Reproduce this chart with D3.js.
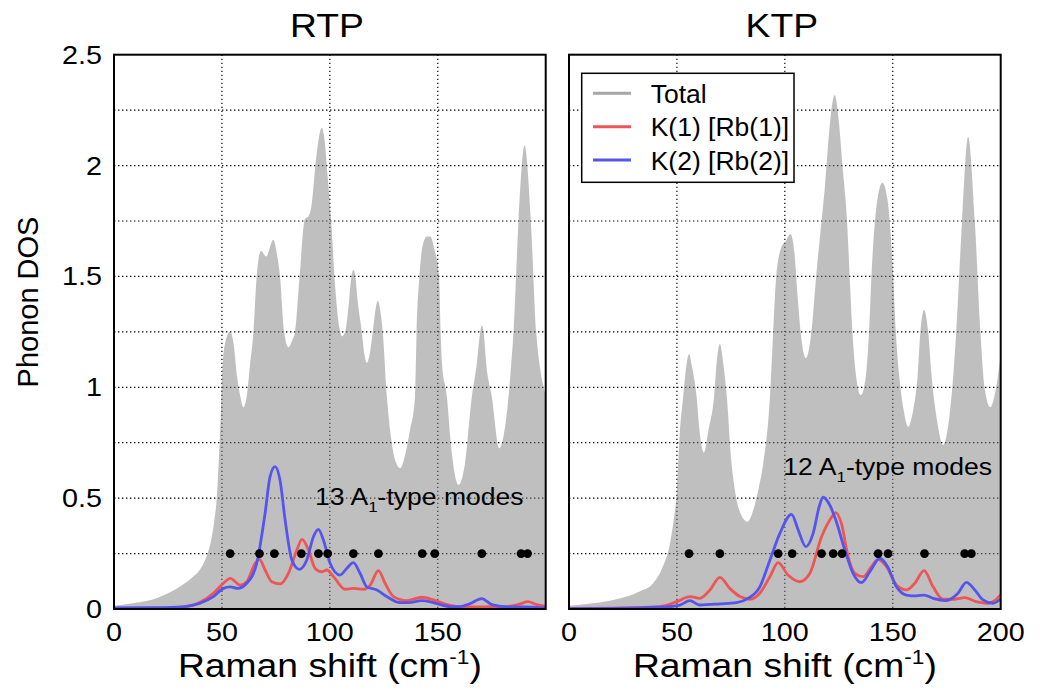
<!DOCTYPE html>
<html><head><meta charset="utf-8">
<script src="https://cdn.jsdelivr.net/npm/d3@7"></script>
<style>
body{margin:0;background:#fff;}
text{font-family:"Liberation Sans",Arial,Helvetica,sans-serif;fill:#000;}
</style></head>
<body><svg id="c" width="1043" height="693"></svg>
<script>
// ---------- data ----------
const panelTitles = ["RTP", "KTP"];
const xTicksLeft = [0, 50, 100, 150];
const xTicksRight = [0, 50, 100, 150, 200];
const yTicks = [0, 0.5, 1, 1.5, 2, 2.5];
const gridX = [50, 100, 150];
const gridY = [0.25, 0.5, 0.75, 1, 1.25, 1.5, 1.75, 2, 2.25];
const legendLabels = ["Total", "K(1) [Rb(1)]", "K(2) [Rb(2)]"];
const modeCounts = ["13", "12"];

const rtpTotal = [[0,0.015],[10,0.028],[20,0.05],[26,0.075],[32,0.11],[36,0.14],[40,0.18],[43,0.24],[45,0.31],[46.5,0.4],[47.6,0.5],[48.5,0.66],[49.3,0.83],[50.2,1.08],[51.5,1.2],[53.8,1.25],[55.5,1.19],[57,1.05],[58.5,0.96],[59.9,0.91],[61.5,0.96],[63,1.1],[64.6,1.25],[66.1,1.5],[68.1,1.615],[70.5,1.59],[73.8,1.665],[75.5,1.6],[76.9,1.5],[78.8,1.25],[80.8,1.18],[82.5,1.21],[83.9,1.25],[86,1.5],[88.5,1.76],[90,1.77],[91.5,1.82],[93.5,2.02],[95,2.13],[96.3,2.17],[97.5,2.12],[99,1.95],[100.6,1.75],[102.5,1.45],[104.4,1.27],[105.7,1.23],[107.1,1.25],[108.5,1.35],[110,1.5],[110.9,1.53],[111.8,1.5],[113,1.38],[114.8,1.25],[116,1.15],[117.1,1.11],[118.5,1.15],[119.9,1.25],[121,1.34],[122.2,1.39],[123.3,1.35],[124.5,1.25],[126.4,0.96],[128,0.8],[130,0.68],[132.6,0.635],[135,0.7],[137,0.8],[139.5,0.96],[140.2,1.25],[141.5,1.5],[143,1.64],[145,1.68],[146.5,1.68],[148.5,1.62],[150.6,1.5],[151.3,1.25],[152,1.1],[154.2,0.96],[156,0.75],[159.6,0.56],[162.5,0.65],[165.8,0.96],[168,1.1],[169.7,1.25],[170.4,1.28],[171.2,1.25],[172.5,1.1],[175,0.96],[178.5,0.725],[182.8,0.96],[184,1.1],[185.1,1.25],[187.4,1.75],[190.2,2.09],[193.1,1.75],[195.6,1.25],[197.5,1.08],[200,0.965]];
const rtpK1 = [[0,0.003],[20,0.004],[32,0.01],[39.9,0.03],[46,0.071],[50.7,0.116],[53.9,0.138],[56,0.125],[58.4,0.108],[61.5,0.123],[65.4,0.206],[67.4,0.224],[70,0.176],[73.1,0.123],[76.9,0.113],[80.8,0.161],[84.7,0.266],[87.1,0.314],[90.1,0.266],[93.2,0.183],[96.3,0.168],[98.6,0.176],[101.7,0.146],[107.1,0.089],[110.9,0.093],[115.6,0.089],[118.7,0.108],[122.5,0.173],[125.6,0.116],[129.5,0.056],[135.7,0.038],[142.6,0.053],[148,0.041],[154.2,0.02],[160,0.01],[171,0.01],[182,0.011],[188.2,0.023],[191.7,0.033],[195.8,0.02],[200,0.012]];
const rtpK2 = [[0,0.005],[20,0.006],[32,0.01],[39.9,0.026],[46,0.056],[50.7,0.093],[53.9,0.1],[57.3,0.093],[61.5,0.116],[66.1,0.206],[70,0.432],[72.3,0.597],[74.6,0.642],[76.9,0.582],[79.3,0.4],[82.4,0.221],[85.9,0.179],[89.3,0.221],[92.4,0.326],[94.7,0.359],[97,0.311],[100.1,0.206],[104.7,0.153],[107.8,0.183],[110.9,0.209],[114,0.161],[117.1,0.1],[121.8,0.086],[126.4,0.056],[132.6,0.029],[136.6,0.029],[142.6,0.038],[148,0.029],[155.7,0.011],[160,0.011],[164.7,0.023],[170.4,0.047],[175,0.02],[182,0.01],[191,0.01],[200,0.005]];
const rtpModes = [53.8,67.4,74.3,86.8,94.7,99.0,110.9,122.5,142.8,148.6,170.4,188.6,191.6];

const ktpTotal = [[0,0.015],[10,0.025],[20,0.04],[26.7,0.056],[33,0.08],[39,0.116],[43,0.18],[46.8,0.296],[48.5,0.4],[49.8,0.507],[51.4,0.807],[52.9,0.958],[53.8,1.05],[54.7,1.12],[55.7,1.15],[56.8,1.1],[59.1,0.958],[60.5,0.8],[62.5,0.705],[64.5,0.8],[67.2,0.958],[68.5,1.12],[69.9,1.195],[71.3,1.12],[73.1,0.958],[75.3,0.657],[77.5,0.5],[80,0.42],[82.7,0.394],[85.5,0.45],[88,0.55],[90,0.657],[93.1,0.958],[94.6,1.25],[96,1.5],[98.5,1.634],[100.5,1.66],[102.6,1.691],[104.5,1.6],[106,1.4],[107.3,1.25],[109.7,1.131],[112.3,1.25],[114.5,1.5],[117,1.75],[118.5,1.9],[119.3,2.0],[121,2.2],[123.1,2.318],[125,2.2],[126.7,2.0],[128.8,1.75],[130.5,1.4],[131.3,1.25],[133,1.05],[135.2,0.965],[137.5,1.05],[139,1.25],[140.1,1.5],[142.5,1.82],[145.2,1.923],[147.5,1.85],[150.2,1.5],[151.4,1.25],[153,1.05],[155,0.9],[157.1,0.822],[159.5,0.9],[161.5,1.05],[162.8,1.25],[164.5,1.349],[166.4,1.25],[168,1.05],[170.5,0.85],[173.3,0.74],[176,0.85],[178,1.05],[179.4,1.25],[182.1,1.75],[184.9,2.13],[188,1.75],[190.6,1.25],[192.5,1.0],[195.2,0.91],[197.5,0.98],[199,1.07],[200,1.15]];
const ktpK1 = [[0,0.003],[20,0.004],[42.1,0.011],[49.9,0.033],[56,0.056],[60.6,0.048],[65.3,0.086],[69.9,0.143],[74.5,0.093],[79.2,0.056],[83.8,0.044],[88.4,0.071],[93.1,0.146],[96.9,0.209],[101.5,0.153],[106.9,0.123],[111.6,0.161],[117,0.326],[120.8,0.401],[123.6,0.435],[126.2,0.386],[129.3,0.236],[132.4,0.161],[136.3,0.146],[140.1,0.191],[143.2,0.224],[147.1,0.191],[151.7,0.108],[156.3,0.086],[160.2,0.116],[164.5,0.173],[168.7,0.1],[173.3,0.044],[178.7,0.044],[183.3,0.051],[188.7,0.033],[194.1,0.026],[197.2,0.038],[200,0.065]];
const ktpK2 = [[0,0.002],[20,0.003],[42,0.008],[51.4,0.018],[56,0.038],[60.6,0.018],[69.9,0.023],[77.6,0.029],[83,0.048],[88.4,0.1],[93.1,0.221],[97.7,0.341],[103.1,0.427],[106.2,0.356],[109.7,0.281],[113.1,0.341],[115.9,0.461],[117.7,0.504],[120.8,0.469],[123.6,0.401],[127.8,0.266],[131.6,0.161],[135.5,0.119],[139.4,0.168],[144,0.229],[147.6,0.191],[151.7,0.1],[156.3,0.063],[160.9,0.059],[164.5,0.063],[168.7,0.048],[174.8,0.038],[180.2,0.071],[184.1,0.12],[188,0.086],[191.8,0.041],[196.4,0.026],[200,0.045]];
const ktpModes = [55.6,69.9,96.9,103.4,117,122.4,126.5,143.2,147.8,164.7,183.3,186.4];
const modeLevel = 0.25;

// ---------- drawing ----------
const svg = d3.select("#c");
const colors = {total:"#808080", k1:"#ee5555", k2:"#5555ee"};
const yTop = 54.7, yBot = 609;
const SX = 1.13; // horizontal stretch of the reference's lettering
function stext(g, x, yy, anchor, size, sx){
  return g.append("text").attr("transform",`translate(${x},${yy}) scale(${sx},1)`)
    .attr("text-anchor",anchor).attr("font-size",size);
}
const panels = [
  {x0:114, x1:545.7, title:panelTitles[0], total:rtpTotal, k1:rtpK1, k2:rtpK2, modes:rtpModes, xt:xTicksLeft, yLabels:true, count:modeCounts[0], annX:315, annY:505},
  {x0:569, x1:1000.7, title:panelTitles[1], total:ktpTotal, k1:ktpK1, k2:ktpK2, modes:ktpModes, xt:xTicksRight, yLabels:false, count:modeCounts[1], annX:783.3, annY:475}
];
const y = d3.scaleLinear().domain([0,2.5]).range([yBot,yTop]);

panels.forEach((p,i)=>{
  const x = d3.scaleLinear().domain([0,200]).range([p.x0,p.x1]);
  const g = svg.append("g");
  const clipId = "clip"+i;
  svg.append("clipPath").attr("id",clipId).append("rect")
    .attr("x",p.x0).attr("y",yTop).attr("width",p.x1-p.x0).attr("height",yBot-yTop);
  // grid
  g.selectAll(".gx").data(gridX).join("line")
    .attr("x1",d=>x(d)).attr("x2",d=>x(d)).attr("y1",yTop).attr("y2",yBot)
    .attr("stroke","#000").attr("stroke-width",1.2).attr("stroke-dasharray","1.4,2.6");
  g.selectAll(".gy").data(gridY).join("line")
    .attr("x1",p.x0).attr("x2",p.x1).attr("y1",d=>y(d)).attr("y2",d=>y(d))
    .attr("stroke","#000").attr("stroke-width",1.2).attr("stroke-dasharray","1.4,2.6");
  const cg = g.append("g").attr("clip-path",`url(#${clipId})`);
  // total area
  const area = d3.area().x(d=>x(d[0])).y0(y(0)).y1(d=>y(d[1])).curve(d3.curveMonotoneX);
  cg.append("path").datum(p.total).attr("d",area).attr("fill",colors.total).attr("fill-opacity",0.5);
  const line = d3.line().x(d=>x(d[0])).y(d=>y(d[1])).curve(d3.curveMonotoneX);
  cg.append("path").datum(p.k1).attr("d",line).attr("fill","none").attr("stroke",colors.k1).attr("stroke-width",2.8);
  cg.append("path").datum(p.k2).attr("d",line).attr("fill","none").attr("stroke",colors.k2).attr("stroke-width",2.8);
  // modes
  g.selectAll(".m").data(p.modes).join("circle")
    .attr("cx",d=>x(d)).attr("cy",y(modeLevel)).attr("r",4.4).attr("fill","#000");
  // annotation
  const t = stext(g, p.annX, p.annY, "start", 23.5, SX);
  t.append("tspan").text(p.count+" A");
  t.append("tspan").attr("font-size",15).attr("dy",7).text("1");
  t.append("tspan").attr("dy",-7).text("-type modes");
  // frame
  g.append("rect").attr("x",p.x0).attr("y",yTop).attr("width",p.x1-p.x0).attr("height",yBot-yTop)
    .attr("fill","none").attr("stroke","#000").attr("stroke-width",2);
  // x tick labels
  p.xt.forEach(d=>{ stext(g, x(d), 641, "middle", 25, 1.15).text(d); });
  if(p.yLabels){
    yTicks.forEach(d=>{ stext(g, 102, y(d)+9, "end", 25, 1.15).text(d); });
  }
  // title
  stext(g, (p.x0+p.x1)/2-3, 37, "middle", 33, SX).text(p.title);
  // x label
  const xl = stext(g, (p.x0+p.x1)/2, 677, "middle", 33, SX);
  xl.append("tspan").text("Raman shift (cm");
  xl.append("tspan").attr("font-size",20).attr("dy",-13).text("-1");
  xl.append("tspan").attr("dy",13).text(")");
});

// y label
svg.append("text").attr("transform","translate(38,302) rotate(-90)").attr("text-anchor","middle")
  .attr("font-size",29).text("Phonon DOS");

// legend
const lg = svg.append("g");
lg.append("rect").attr("x",581.7).attr("y",73.3).attr("width",212.3).attr("height",109)
  .attr("fill","#fff").attr("stroke","#000").attr("stroke-width",1.5);
const legColors = ["#a6a6a6", colors.k1, colors.k2];
const legY = d3.scalePoint().domain(legendLabels).range([93.3,160]);
legendLabels.forEach((lab,i)=>{
  lg.append("line").attr("x1",593).attr("x2",631).attr("y1",legY(lab)).attr("y2",legY(lab))
    .attr("stroke",legColors[i]).attr("stroke-width",3);
  lg.append("text").attr("x",650.7).attr("y",legY(lab)+9.5).attr("font-size",26.5).text(lab);
});
</script></body></html>
